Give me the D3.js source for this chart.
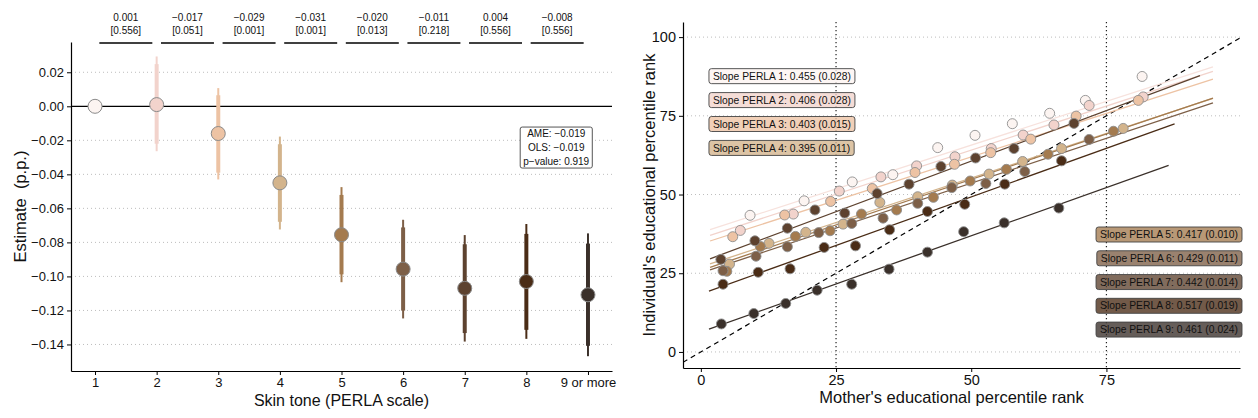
<!DOCTYPE html>
<html>
<head>
<meta charset="utf-8">
<script src="https://cdn.jsdelivr.net/npm/d3@7"></script>
<style>
  body { margin: 0; background: #fff; }
  text { font-family: "Liberation Sans", Arial, Helvetica, sans-serif; fill: #111; }
</style>
</head>
<body>
<svg id="chart" width="1258" height="418"></svg>
<script>
// ---- data: left panel (estimates by skin tone) ----
var toneLabels = ["1", "2", "3", "4", "5", "6", "7", "8", "9 or more"];
var toneColors = ["#fcf4f1", "#f2d3cc", "#edc3a4", "#d3b48c", "#a47b4f", "#7d5f47", "#5d422f", "#4a2c16", "#3a302a"];
var estimate  = [0, 0.001, -0.016, -0.045, -0.0755, -0.0957, -0.107, -0.103, -0.1108];
var ci95Low   = [null, -0.0264, -0.043, -0.0724, -0.1034, -0.1247, -0.1383, -0.1367, -0.1469];
var ci95High  = [null, 0.0293, 0.0107, -0.0178, -0.0475, -0.0667, -0.0757, -0.0692, -0.0747];
var ci90Low   = [null, -0.022, -0.039, -0.0679, -0.0988, -0.1201, -0.1333, -0.1314, -0.1408];
var ci90High  = [null, 0.0248, 0.0065, -0.0223, -0.0521, -0.0712, -0.0811, -0.075, -0.0807];
var diffEst   = ["0.001", "\u22120.017", "\u22120.029", "\u22120.031", "\u22120.020", "\u22120.011", "0.004", "\u22120.008"];
var diffP     = ["[0.556]", "[0.051]", "[0.001]", "[0.001]", "[0.013]", "[0.218]", "[0.556]", "[0.556]"];
var summaryLines = ["AME: \u22120.019", "OLS: \u22120.019", "p\u2212value: 0.919"];
var yTicksLeft = [0.02, 0, -0.02, -0.04, -0.06, -0.08, -0.10, -0.12, -0.14];

// ---- data: right panel (binned mobility by skin tone) ----
var motherRank = [
  [9.1, 19.1, 28.0, 35.5, 43.8, 50.7, 57.6, 64.5, 71.1, 81.6],
  [7.3, 17.1, 25.6, 33.3, 39.9, 47.0, 53.7, 59.6, 65.3, 71.8, 81.8],
  [5.9, 15.5, 24.0, 31.7, 39.6, 46.9, 53.6, 61.0, 69.4, 80.9],
  [5.3, 12.6, 19.4, 26.3, 33.1, 40.1, 46.5, 53.3, 59.5, 66.7, 78.1],
  [4.8, 11.0, 17.5, 23.9, 29.7, 36.2, 43.0, 49.8, 56.5, 64.2, 76.3],
  [4.1, 10.2, 16.0, 21.8, 27.9, 33.7, 40.1, 46.4, 52.7, 59.9, 71.8],
  [3.7, 10.0, 16.0, 21.1, 26.6, 32.6, 38.5, 44.4, 50.8, 57.9, 69.0],
  [4.1, 10.6, 16.5, 22.8, 28.6, 34.9, 41.9, 48.8, 56.2, 66.7],
  [3.8, 9.8, 15.7, 21.5, 27.9, 34.8, 41.9, 48.6, 56.1, 66.2]
];
var childRank = [
  [43.4, 48.0, 54.0, 56.3, 64.9, 68.8, 72.5, 75.8, 79.9, 87.5],
  [38.6, 43.8, 51.1, 55.6, 59.1, 62.0, 64.6, 68.9, 72.1, 78.3, 81.0],
  [36.6, 43.5, 47.8, 51.9, 57.0, 59.6, 63.3, 67.6, 74.9, 79.9],
  [27.9, 34.5, 38.0, 40.6, 47.5, 49.3, 53.0, 56.5, 60.5, 64.6, 71.0],
  [25.6, 33.5, 36.7, 38.5, 43.8, 45.1, 49.1, 54.3, 58.0, 62.8, 70.1],
  [25.8, 30.4, 33.4, 37.9, 40.8, 42.5, 47.2, 52.2, 53.5, 57.3, 67.5],
  [29.4, 35.3, 39.3, 45.1, 44.1, 50.3, 53.3, 58.9, 61.6, 64.6, 72.6],
  [21.5, 25.3, 26.4, 33.2, 33.7, 38.8, 44.6, 46.9, 53.3, 60.7],
  [8.9, 12.2, 15.4, 19.6, 21.5, 26.3, 31.7, 38.2, 41.0, 45.7]
];
var fitIntercept = [37.9, 36.1, 34.3, 27.0, 25.9, 25.1, 28.5, 18.4, 6.3];
var fitSlope     = [0.556, 0.56, 0.553, 0.565, 0.578, 0.57, 0.642, 0.617, 0.612];
var fitFrom      = [1.7, 1.7, 1.7, 1.7, 1.7, 1.7, 1.7, 1.5, 1.5];
var fitTo        = [94.7, 94.7, 94.7, 94.7, 94.7, 94.7, 92.3, 87.6, 86.5];
var slopeText = ["0.455 (0.028)", "0.406 (0.028)", "0.403 (0.015)", "0.395 (0.011)", "0.417 (0.010)",
                 "0.429 (0.011)", "0.442 (0.014)", "0.517 (0.019)", "0.461 (0.024)"];
var xTicksRight = [0, 25, 50, 75];
var yTicksRight = [0, 25, 50, 75, 100];

var svg = d3.select("#chart");
var minus = function(s) { return s.replace("-", "\u2212"); };

// ================= LEFT PANEL =================
var L = {left: 71, right: 612, top: 42, bottom: 371};
var xL = d3.scaleLinear().domain([0.61, 9.39]).range([L.left, L.right]);
var yL = d3.scaleLinear().domain([-0.1556, 0.0378]).range([L.bottom, L.top]);
var gL = svg.append("g");

gL.selectAll("line.grid").data(yTicksLeft.filter(function(d) { return d !== 0; }))
  .enter().append("line").attr("class", "grid")
  .attr("x1", L.left).attr("x2", L.right)
  .attr("y1", function(d) { return yL(d); }).attr("y2", function(d) { return yL(d); })
  .attr("stroke", "#b5b5b5").attr("stroke-width", 0.9).attr("stroke-dasharray", "1,3");

gL.append("line")
  .attr("x1", L.left).attr("x2", L.right).attr("y1", yL(0)).attr("y2", yL(0))
  .attr("stroke", "#000").attr("stroke-width", 1.3);

var axLy = gL.append("g").attr("transform", "translate(" + L.left + ",0)")
  .call(d3.axisLeft(yL).tickValues(yTicksLeft).tickSize(4).tickSizeOuter(0).tickPadding(3)
    .tickFormat(function(d) { return minus(d3.format(".2f")(d)); }));
var axLx = gL.append("g").attr("transform", "translate(0," + L.bottom + ")")
  .call(d3.axisBottom(xL).tickValues(d3.range(1, 10)).tickSize(4).tickSizeOuter(0).tickPadding(3)
    .tickFormat(function(d) { return toneLabels[d - 1]; }));
[axLy, axLx].forEach(function(ax) {
  ax.selectAll("text").attr("font-size", 13).attr("fill", "#111");
  ax.select(".domain").attr("stroke-width", 1.2);
});

gL.append("text").attr("x", xL(5)).attr("y", 406).attr("text-anchor", "middle")
  .attr("font-size", 16).text("Skin tone (PERLA scale)");
gL.append("text").attr("transform", "translate(26," + ((L.top + L.bottom) / 2) + ") rotate(-90)")
  .attr("text-anchor", "middle").attr("font-size", 16.5).style("white-space", "pre")
  .text("Estimate  (p.p.)");

// pairwise difference annotations
var diffs = gL.selectAll("g.diff").data(diffEst).enter().append("g");
diffs.append("line")
  .attr("x1", function(d, i) { return xL(i + 1.07); }).attr("x2", function(d, i) { return xL(i + 1.93); })
  .attr("y1", 43).attr("y2", 43).attr("stroke", "#000").attr("stroke-width", 1.4);
diffs.append("text").attr("x", function(d, i) { return xL(i + 1.5); }).attr("y", 21)
  .attr("text-anchor", "middle").attr("font-size", 10).text(function(d) { return d; });
diffs.append("text").attr("x", function(d, i) { return xL(i + 1.5); }).attr("y", 34)
  .attr("text-anchor", "middle").attr("font-size", 10).text(function(d, i) { return diffP[i]; });

// confidence intervals
var idx = d3.range(9).filter(function(i) { return ci95Low[i] !== null; });
gL.selectAll("line.ci95").data(idx).enter().append("line")
  .attr("x1", function(i) { return xL(i + 1); }).attr("x2", function(i) { return xL(i + 1); })
  .attr("y1", function(i) { return yL(ci95Low[i]); }).attr("y2", function(i) { return yL(ci95High[i]); })
  .attr("stroke", function(i) { return toneColors[i]; }).attr("stroke-width", 2);
gL.selectAll("line.ci90").data(idx).enter().append("line")
  .attr("x1", function(i) { return xL(i + 1); }).attr("x2", function(i) { return xL(i + 1); })
  .attr("y1", function(i) { return yL(ci90Low[i]); }).attr("y2", function(i) { return yL(ci90High[i]); })
  .attr("stroke", function(i) { return toneColors[i]; }).attr("stroke-width", 4);
gL.selectAll("circle.est").data(estimate).enter().append("circle")
  .attr("cx", function(d, i) { return xL(i + 1); }).attr("cy", function(d) { return yL(d); })
  .attr("r", 7).attr("fill", function(d, i) { return toneColors[i]; })
  .attr("stroke", "#8a8a8a").attr("stroke-width", 1);

// summary box
var sb = gL.append("g");
sb.append("rect").attr("x", xL(7.9)).attr("y", yL(-0.0122))
  .attr("width", xL(9.07) - xL(7.9)).attr("height", yL(-0.0363) - yL(-0.0122))
  .attr("rx", 2).attr("fill", "#fff").attr("stroke", "#555").attr("stroke-width", 1);
sb.selectAll("text").data(summaryLines).enter().append("text")
  .attr("x", xL(8.485)).attr("y", function(d, i) { return yL(-0.0162 - i * 0.0082) + 3.5; })
  .attr("text-anchor", "middle").attr("font-size", 10).text(function(d) { return d; });

// ================= RIGHT PANEL =================
var R = {left: 683, right: 1240, top: 22, bottom: 368};
var xR = d3.scaleLinear().domain([-3.3, 99.7]).range([R.left, R.right]);
var yR = d3.scaleLinear().domain([-5.1, 104.8]).range([R.bottom, R.top]);
var gR = svg.append("g");

svg.append("clipPath").attr("id", "clipR").append("rect")
  .attr("x", R.left).attr("y", R.top).attr("width", R.right - R.left).attr("height", R.bottom - R.top);

gR.selectAll("line.gridR").data(yTicksRight).enter().append("line")
  .attr("x1", R.left).attr("x2", R.right)
  .attr("y1", function(d) { return yR(d); }).attr("y2", function(d) { return yR(d); })
  .attr("stroke", "#b5b5b5").attr("stroke-width", 0.9).attr("stroke-dasharray", "1,3");

gR.selectAll("line.vref").data([25, 75]).enter().append("line")
  .attr("x1", function(d) { return xR(d); }).attr("x2", function(d) { return xR(d); })
  .attr("y1", R.top).attr("y2", R.bottom)
  .attr("stroke", "#222").attr("stroke-width", 1.2).attr("stroke-dasharray", "1.3,2.7");

gR.append("line").attr("clip-path", "url(#clipR)")
  .attr("x1", xR(-3.3)).attr("y1", yR(-3.3)).attr("x2", xR(99.7)).attr("y2", yR(99.7))
  .attr("stroke", "#000").attr("stroke-width", 1.2).attr("stroke-dasharray", "5,4");

var axRy = gR.append("g").attr("transform", "translate(" + R.left + ",0)")
  .call(d3.axisLeft(yR).tickValues(yTicksRight).tickSize(4).tickSizeOuter(0).tickPadding(3));
var axRx = gR.append("g").attr("transform", "translate(0," + R.bottom + ")")
  .call(d3.axisBottom(xR).tickValues(xTicksRight).tickSize(4).tickSizeOuter(0).tickPadding(3));
[axRy, axRx].forEach(function(ax) {
  ax.selectAll("text").attr("font-size", 14.5).attr("fill", "#111");
  ax.select(".domain").attr("stroke-width", 1.2);
});

gR.append("text").attr("x", (R.left + R.right) / 2 - 10).attr("y", 403).attr("text-anchor", "middle")
  .attr("font-size", 16.5).text("Mother's educational percentile rank");
gR.append("text").attr("transform", "translate(655," + ((R.top + R.bottom) / 2) + ") rotate(-90)")
  .attr("text-anchor", "middle").attr("font-size", 16.5).text("Individual's educational percentile rank");

// fitted lines
gR.selectAll("line.fit").data(d3.range(9)).enter().append("line")
  .attr("x1", function(i) { return xR(fitFrom[i]); })
  .attr("y1", function(i) { return yR(fitIntercept[i] + fitSlope[i] * fitFrom[i]); })
  .attr("x2", function(i) { return xR(fitTo[i]); })
  .attr("y2", function(i) { return yR(fitIntercept[i] + fitSlope[i] * fitTo[i]); })
  .attr("stroke", function(i) { return i === 0 ? "#f7e2dd" : toneColors[i]; })
  .attr("stroke-width", 1.3);

// binned points
d3.range(9).forEach(function(s) {
  gR.append("g").selectAll("circle").data(motherRank[s]).enter().append("circle")
    .attr("cx", function(d) { return xR(d); })
    .attr("cy", function(d, j) { return yR(childRank[s][j]); })
    .attr("r", 5).attr("fill", toneColors[s])
    .attr("stroke", "#8f8f8f").attr("stroke-width", 0.9);
});

// slope labels
d3.range(9).forEach(function(i) {
  var g = gR.append("g");
  var t = g.append("text").attr("font-size", 10.3)
    .text("Slope PERLA " + (i + 1) + ": " + slopeText[i]);
  var w = t.node().getComputedTextLength();
  var yc = i < 4 ? yR(87.6 - i * 7.6) : yR(37.3 - (i - 4) * 7.55);
  var x0 = i < 4 ? xR(1.5) : R.right + 2 - (w + 8);
  g.insert("rect", "text").attr("x", x0).attr("y", yc - 7.5).attr("width", w + 8).attr("height", 15)
    .attr("rx", 2.5).attr("fill", toneColors[i]).attr("fill-opacity", 0.78)
    .attr("stroke", "#444").attr("stroke-width", 0.9);
  t.attr("x", x0 + 4).attr("y", yc + 3.6);
});
</script>
</body>
</html>
